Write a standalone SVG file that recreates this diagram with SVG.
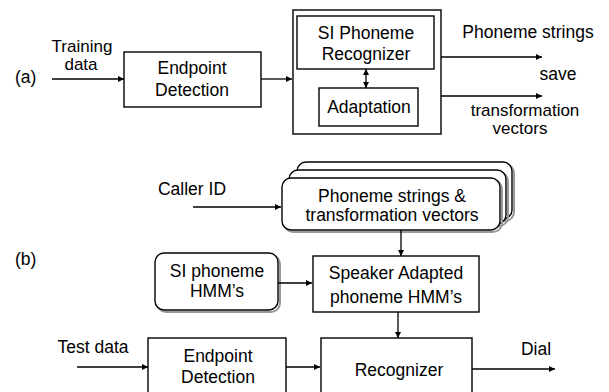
<svg xmlns="http://www.w3.org/2000/svg" width="609" height="392" viewBox="0 0 609 392">
  <defs>
    <marker id="arrow" viewBox="0 0 10 10" refX="10" refY="5" markerWidth="7" markerHeight="6" markerUnits="userSpaceOnUse" orient="auto-start-reverse">
      <path d="M0,0 L10,5 L0,10 z" fill="#000"/>
    </marker>
  </defs>
  <style>
    text { font-family: "Liberation Sans", Arial, sans-serif; font-size: 17.5px; fill: #000; text-anchor: middle; }
    .tight { font-size: 17px; }
    .box { fill: #fff; stroke: #000; stroke-width: 1.4; }
    .shadow { fill: none; stroke: #999; stroke-width: 2; }
    .wire { fill: none; stroke: #000; stroke-width: 1.3; marker-end: url(#arrow); }
    .both { marker-start: url(#arrow); }
    .lbl { text-anchor: start; }
  </style>

  <rect width="609" height="392" fill="#fff"/>

  <!-- (a) training chain -->
  <text class="lbl" x="15" y="83">(a)</text>
  <text class="tight" x="82" y="52">Training</text>
  <text class="tight" x="81" y="70">data</text>

  <g id="endpoint-a">
    <rect class="box" x="124" y="52" width="137" height="55"/>
    <text x="192" y="74">Endpoint</text>
    <text x="192" y="96">Detection</text>
  </g>

  <g id="si-recognizer-unit">
    <rect class="box" x="293" y="10" width="148" height="124"/>
    <g id="si-phoneme-recognizer">
      <rect class="box" x="297" y="16" width="137" height="53"/>
      <text x="366" y="39">SI Phoneme</text>
      <text x="366" y="60">Recognizer</text>
    </g>
    <g id="adaptation">
      <rect class="box" x="319" y="88" width="99" height="38"/>
      <text x="369" y="113">Adaptation</text>
    </g>
  </g>

  <text x="528" y="38">Phoneme strings</text>
  <text x="558" y="80">save</text>
  <text class="tight" x="525" y="116">transformation</text>
  <text class="tight" x="520" y="134">vectors</text>

  <!-- (b) dialing chain -->
  <text class="lbl" x="15" y="265">(b)</text>
  <text x="192" y="195">Caller ID</text>

  <g id="stored-models">
    <rect class="shadow" x="299" y="164" width="215" height="57" rx="9"/>
    <rect class="box" x="297" y="162" width="215" height="57" rx="9"/>
    <rect class="shadow" x="291" y="172" width="217" height="54" rx="9"/>
    <rect class="box" x="289" y="170" width="217" height="54" rx="9"/>
    <rect class="shadow" x="284" y="180" width="218" height="52" rx="9"/>
    <rect class="box" x="282" y="178" width="218" height="52" rx="9"/>
    <text x="392" y="202">Phoneme strings &amp;</text>
    <text x="392" y="221">transformation vectors</text>
  </g>

  <g id="si-hmms">
    <rect class="shadow" x="157" y="255" width="123" height="57" rx="9"/>
    <rect class="box" x="155" y="253" width="123" height="57" rx="9"/>
    <text x="217" y="277">SI phoneme</text>
    <text x="217" y="297">HMM’s</text>
  </g>

  <g id="adapted-hmms">
    <rect class="box" x="313" y="256" width="166" height="56"/>
    <text x="396" y="279">Speaker Adapted</text>
    <text x="396" y="303">phoneme  HMM’s</text>
  </g>

  <text x="93" y="353">Test data</text>

  <g id="endpoint-b">
    <rect class="box" x="148" y="338" width="138" height="70"/>
    <text x="218" y="362">Endpoint</text>
    <text x="218" y="383">Detection</text>
  </g>

  <g id="recognizer">
    <rect class="box" x="321" y="338" width="151" height="70"/>
    <text x="399" y="376">Recognizer</text>
  </g>

  <text x="536" y="355">Dial</text>

  <g id="connectors">
    <path class="wire" d="M52,79 H124"/>
    <path class="wire" d="M261,79 H292"/>
    <path class="wire both" d="M366,69 V88"/>
    <path class="wire" d="M441,57 H542"/>
    <path class="wire" d="M441,96 H542"/>
    <path class="wire" d="M193,207 H281"/>
    <path class="wire" d="M401,230 V256"/>
    <path class="wire" d="M278,283 H312"/>
    <path class="wire" d="M398,312 V338"/>
    <path class="wire" d="M77,367 H148"/>
    <path class="wire" d="M286,367 H320"/>
    <path class="wire" d="M472,369 H555"/>
  </g>
</svg>
